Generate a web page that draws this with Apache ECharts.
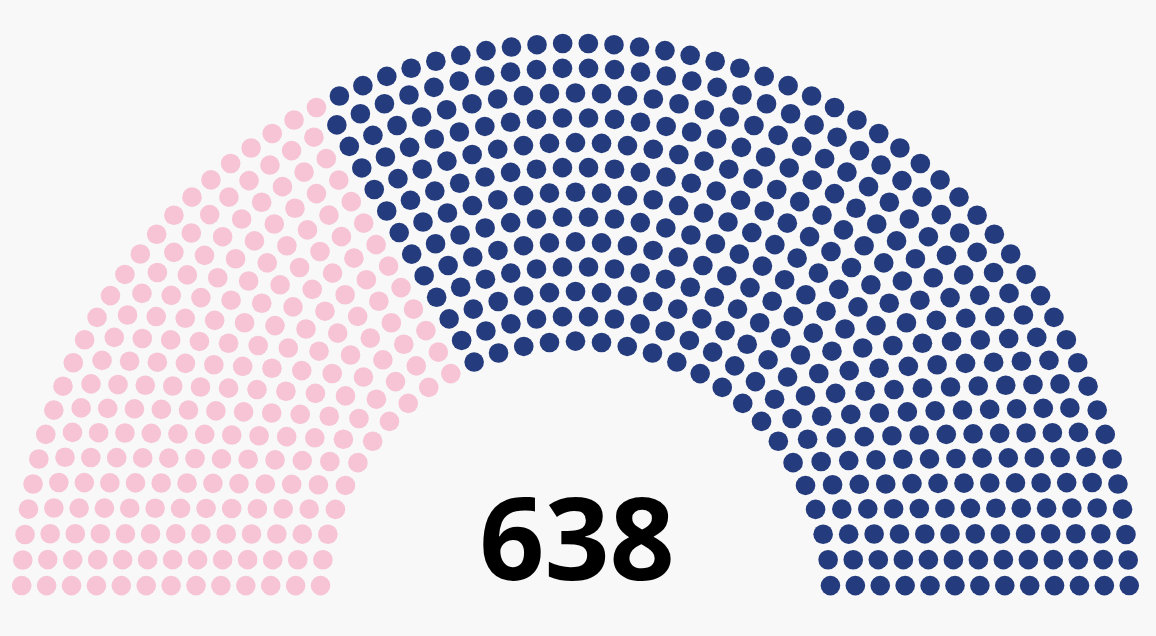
<!DOCTYPE html>
<html>
<head>
<meta charset="utf-8">
<script src="https://cdn.jsdelivr.net/npm/echarts@6/dist/echarts.min.js"></script>
<style>
html,body{margin:0;padding:0;background:#f8f8f8;}
#chart{width:1156px;height:636px;}
</style>
</head>
<body>
<div id="chart"></div>
<script>
// ---- data ----
const partyNames = ['Pink group', 'Navy group'];
const partySeats = [222, 416];
const partyColors = ['#F6C4D4', '#243B7D'];

// ---- parliament arch layout (seat positions derived from seat counts) ----
const N = partySeats.reduce((a, b) => a + b, 0);
function capacity(rows) {
  let t = 0;
  for (let i = 1; i <= rows; i++) {
    t += Math.floor(Math.PI / (2 * Math.asin(2 / (3 * rows + 4 * i - 2))));
  }
  return t;
}
let rows = 1;
while (capacity(rows) < N) rows++;
const total = capacity(rows);
const radius = 0.4 / rows;
const pos = [];
function addRow(J, R) {
  if (J === 1) { pos.push([Math.PI / 2, 0, R]); return; }
  const off = Math.sin(radius / R);
  for (let j = 0; j < J; j++) {
    const a = j * (Math.PI - 2 * off) / (J - 1) + off;
    pos.push([a, R * Math.cos(a), R * Math.sin(a)]);
  }
}
for (let i = 1; i < rows; i++) {
  const J = Math.floor(N / total * Math.PI / (2 * Math.asin(2 / (3 * rows + 4 * i - 2))));
  addRow(J, (3 * rows + 4 * i - 2) / (4 * rows));
}
addRow(N - pos.length, (7 * rows - 2) / (4 * rows));
pos.sort((p, q) => q[0] - p[0]);

const seriesData = partySeats.map(() => []);
let k = 0;
partySeats.forEach((s, p) => {
  for (let n = 0; n < s; n++, k++) seriesData[p].push([pos[k][1], pos[k][2]]);
});

const chart = echarts.init(document.getElementById('chart'), null, {renderer: 'canvas'});
chart.setOption({
  backgroundColor: '#f8f8f8',
  animation: false,
  grid: {left: 9.2, right: 14.2, top: 14.82, bottom: 8.24, containLabel: false, outerBoundsMode: 'none'},
  xAxis: {type: 'value', min: -1.75, max: 1.75, show: false},
  yAxis: {type: 'value', min: -0.1, max: 1.8, show: false},
  series: partySeats.map((s, p) => ({
    name: partyNames[p],
    type: 'scatter',
    symbol: 'circle',
    symbolSize: 19.6,
    silent: true,
    clip: false,
    itemStyle: {color: partyColors[p], opacity: 1},
    data: seriesData[p]
  })),
  graphic: [{
    type: 'text',
    x: 577,
    y: 548,
    style: {
      text: String(N),
      fill: '#000',
      font: 'bold 114px "Open Sans", "Noto Sans", sans-serif',
      align: 'center',
      verticalAlign: 'middle'
    }
  }]
});
</script>
</body>
</html>
